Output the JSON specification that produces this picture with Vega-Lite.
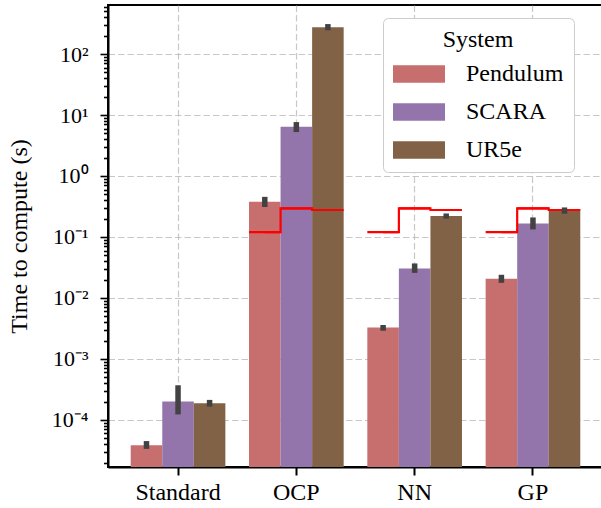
{
  "$schema": "https://vega.github.io/schema/vega-lite/v6.json",
  "width": 495,
  "height": 462,
  "autosize": "none",
  "padding": {"left": 108, "top": 5, "right": 0, "bottom": 41},
  "background": "white",
  "config": {
    "font": "Liberation Serif",
    "view": {"stroke": "#000000", "strokeWidth": 2},
    "axis": {"zindex": 1}
  },
  "datasets": {
    "times": [
      {"Method": "Standard", "System": "Pendulum", "time": 0.0000385, "lo": 0.0000335, "hi": 0.000045},
      {"Method": "Standard", "System": "SCARA", "time": 0.0002, "lo": 0.000123, "hi": 0.00037},
      {"Method": "Standard", "System": "UR5e", "time": 0.000188, "lo": 0.000165, "hi": 0.000213},
      {"Method": "OCP", "System": "Pendulum", "time": 0.377, "lo": 0.31, "hi": 0.455},
      {"Method": "OCP", "System": "SCARA", "time": 6.4, "lo": 5.25, "hi": 7.66},
      {"Method": "OCP", "System": "UR5e", "time": 274, "lo": 245, "hi": 310},
      {"Method": "NN", "System": "Pendulum", "time": 0.00327, "lo": 0.0029, "hi": 0.0036},
      {"Method": "NN", "System": "SCARA", "time": 0.0304, "lo": 0.0258, "hi": 0.0368},
      {"Method": "NN", "System": "UR5e", "time": 0.22, "lo": 0.2, "hi": 0.243},
      {"Method": "GP", "System": "Pendulum", "time": 0.0206, "lo": 0.0177, "hi": 0.024},
      {"Method": "GP", "System": "SCARA", "time": 0.167, "lo": 0.133, "hi": 0.209},
      {"Method": "GP", "System": "UR5e", "time": 0.283, "lo": 0.241, "hi": 0.305}
    ],
    "limits": [
      {"Method": "OCP", "System": "Pendulum", "limit": 0.12},
      {"Method": "OCP", "System": "SCARA", "limit": 0.295},
      {"Method": "OCP", "System": "UR5e", "limit": 0.277},
      {"Method": "NN", "System": "Pendulum", "limit": 0.12},
      {"Method": "NN", "System": "SCARA", "limit": 0.295},
      {"Method": "NN", "System": "UR5e", "limit": 0.277},
      {"Method": "GP", "System": "Pendulum", "limit": 0.12},
      {"Method": "GP", "System": "SCARA", "limit": 0.295},
      {"Method": "GP", "System": "UR5e", "limit": 0.277}
    ]
  },
  "encoding": {
    "x": {
      "field": "Method",
      "type": "nominal",
      "sort": ["Standard", "OCP", "NN", "GP"],
      "scale": {"domain": ["Standard", "OCP", "NN", "GP"], "paddingInner": 0.2, "paddingOuter": 0.192},
      "axis": {
        "title": null,
        "labelAngle": 0,
        "labelFontSize": 24,
        "labelColor": "#000000",
        "labelPadding": 5,
        "bandPosition": 0.5,
        "ticks": true,
        "tickSize": 8,
        "tickWidth": 2,
        "tickColor": "#000000",
        "domain": true,
        "domainColor": "#000000",
        "domainWidth": 2,
        "grid": true,
        "gridColor": "#b0b0b0",
        "gridOpacity": 0.7,
        "gridWidth": 1.2,
        "gridDash": [6.5, 3]
      }
    },
    "xOffset": {
      "field": "System",
      "type": "nominal",
      "scale": {"domain": ["Pendulum", "SCARA", "UR5e"], "paddingInner": 0, "paddingOuter": 0}
    }
  },
  "layer": [
    {
      "data": {"name": "times"},
      "mark": {"type": "bar"},
      "encoding": {
        "y": {
          "field": "time",
          "type": "quantitative",
          "scale": {"type": "log", "domain": [0.0000169, 637], "nice": false},
          "axis": {
            "title": "Time to compute (s)",
            "titleFontSize": 24,
            "titleFontWeight": "normal",
            "titleColor": "#000000",
            "titlePadding": 20,
            "values": [0.00002, 0.00003, 0.00004, 0.00005, 0.00006, 0.00007, 0.00008, 0.00009,
                       0.0001, 0.0002, 0.0003, 0.0004, 0.0005, 0.0006, 0.0007, 0.0008, 0.0009,
                       0.001, 0.002, 0.003, 0.004, 0.005, 0.006, 0.007, 0.008, 0.009,
                       0.01, 0.02, 0.03, 0.04, 0.05, 0.06, 0.07, 0.08, 0.09,
                       0.1, 0.2, 0.3, 0.4, 0.5, 0.6, 0.7, 0.8, 0.9,
                       1, 2, 3, 4, 5, 6, 7, 8, 9,
                       10, 20, 30, 40, 50, 60, 70, 80, 90,
                       100, 200, 300, 400, 500, 600],
            "labelExpr": "datum.value == 100 ? '10²' : datum.value == 10 ? '10¹' : datum.value == 1 ? '10⁰' : datum.value == 0.1 ? '10⁻¹' : datum.value == 0.01 ? '10⁻²' : datum.value == 0.001 ? '10⁻³' : datum.value == 0.0001 ? '10⁻⁴' : ''",
            "labelFontSize": 22,
            "labelColor": "#000000",
            "labelPadding": 12,
            "ticks": true,
            "tickColor": "#000000",
            "tickSize": {"condition": {"test": "indexof([0.0001, 0.001, 0.01, 0.1, 1, 10, 100], datum.value) >= 0", "value": 8}, "value": 4.5},
            "tickWidth": 1.6,
            "domain": true,
            "domainColor": "#000000",
            "domainWidth": 2,
            "grid": true,
            "gridColor": "#b0b0b0",
            "gridWidth": 1.2,
            "gridDash": [6.5, 3],
            "gridOpacity": {"condition": {"test": "indexof([0.0001, 0.001, 0.01, 0.1, 1, 10, 100], datum.value) >= 0", "value": 0.7}, "value": 0}
          }
        },
        "y2": {"datum": 0.0000169},
        "color": {
          "field": "System",
          "type": "nominal",
          "scale": {"domain": ["Pendulum", "SCARA", "UR5e"], "range": ["#c76e6e", "#9475ab", "#826246"]},
          "legend": {
            "title": "System",
            "orient": "none",
            "legendX": 275,
            "legendY": 13,
            "titleFontSize": 24,
            "titleFontWeight": "normal",
            "titleColor": "#000000",
            "titleAnchor": "middle",
            "titlePadding": -4,
            "labelFontSize": 24,
            "labelColor": "#000000",
            "labelOffset": 21,
            "symbolType": "M-1,-0.34H1V0.34H-1Z",
            "symbolSize": 2704,
            "symbolStrokeWidth": 0,
            "symbolOpacity": 1,
            "rowPadding": 0,
            "padding": 10,
            "strokeColor": "#cccccc",
            "fillColor": "white",
            "cornerRadius": 5
          }
        }
      }
    },
    {
      "data": {"name": "limits"},
      "mark": {"type": "bar", "fillOpacity": 0, "stroke": "#ff0000", "strokeWidth": 2.2},
      "encoding": {
        "y": {"field": "limit", "type": "quantitative"},
        "y2": {"field": "limit"}
      }
    },
    {
      "data": {"name": "limits"},
      "mark": {"type": "line", "interpolate": "step", "color": "#ff0000", "strokeWidth": 2.2},
      "encoding": {
        "y": {"field": "limit", "type": "quantitative"},
        "detail": {"field": "Method", "type": "nominal"}
      }
    },
    {
      "data": {"name": "times"},
      "mark": {"type": "rule", "color": "#424242", "strokeWidth": 5.5},
      "encoding": {
        "y": {"field": "lo", "type": "quantitative"},
        "y2": {"field": "hi"}
      }
    }
  ]
}
